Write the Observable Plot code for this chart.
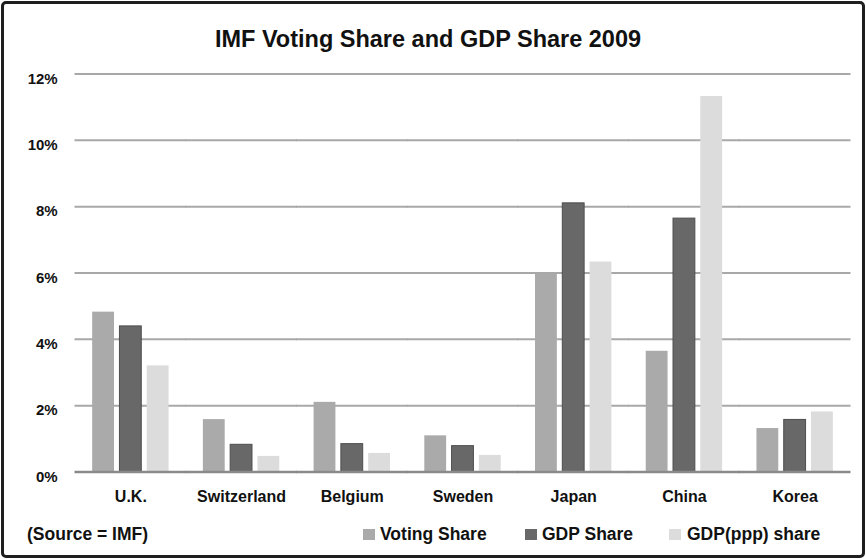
<!DOCTYPE html>
<html>
<head>
<meta charset="utf-8">
<script src="https://cdn.jsdelivr.net/npm/d3@7"></script>
<script src="https://cdn.jsdelivr.net/npm/@observablehq/plot@0.6"></script>
<style>
  html, body { margin: 0; padding: 0; background: #fff; }
  body { width: 866px; height: 559px; position: relative; overflow: hidden;
         font-family: "Liberation Sans", Arial, sans-serif; }
  #chart { position: absolute; left: 0; top: 0; }
  .frame { position: absolute; left: 1px; top: 1px; width: 864px; height: 557px;
           box-sizing: border-box; border: 3px solid #1e1e1e; border-radius: 5px; pointer-events: none; }
  .title { position: absolute; left: 0; width: 856px; top: 28.4px; text-align: center;
           font-size: 23.5px; line-height: 1; font-weight: bold; color: #111; }
  .leg { position: absolute; top: 525.5px; font-size: 17.5px; line-height: 1; font-weight: bold; color: #111; white-space: nowrap; }
  .sw { position: absolute; top: 529px; width: 12px; height: 11px; }
</style>
</head>
<body>
<div id="chart"></div>
<div class="title">IMF Voting Share and GDP Share 2009</div>
<div class="leg" style="left:27px">(Source = IMF)</div>
<div id="legend"></div>
<div class="frame"></div>
<script>
const countries = ["U.K.", "Switzerland", "Belgium", "Sweden", "Japan", "China", "Korea"];
const seriesNames = ["Voting Share", "GDP Share", "GDP(ppp) share"];
const votingShare = [4.82, 1.58, 2.10, 1.09, 5.98, 3.64, 1.31];
const gdpShare    = [4.39, 0.82, 0.84, 0.78, 8.10, 7.64, 1.57];
const pppShare    = [3.20, 0.47, 0.56, 0.50, 6.33, 11.32, 1.81];
const yTicks = [0, 2, 4, 6, 8, 10, 12];
const colors = ["#aaaaaa", "#686868", "#dcdcdc"];

const seriesValues = [votingShare, gdpShare, pppShare];
const data = countries.flatMap((c, i) =>
  seriesNames.map((s, j) => ({country: c, series: s, value: seriesValues[j][i]})));

const W = 866, H = 559, ML = 75, MR = 16;
const fxPadInner = 0.31;
// half the gap between facet groups, so grid lines join into one continuous line
const halfGap = (W - ML - MR) / countries.length * fxPadInner / 2;

const chart = Plot.plot({
  width: W,
  height: H,
  marginTop: 73.5,
  marginBottom: 87.5,
  marginLeft: ML,
  marginRight: MR,
  style: {background: "transparent", fontFamily: "'Liberation Sans', Arial, sans-serif", color: "#111"},
  fx: {domain: countries, paddingInner: fxPadInner, paddingOuter: fxPadInner / 2, round: false, label: null, axis: null},
  x: {domain: seriesNames, paddingInner: 0.2, paddingOuter: 0, round: false, axis: null},
  y: {domain: [0, 12], label: null, axis: null},
  color: {domain: seriesNames, range: colors},
  marks: [
    Plot.ruleY(yTicks.filter(d => d > 0), {stroke: "#a8a8a8", strokeWidth: 2, insetLeft: -halfGap - 0.5, insetRight: -halfGap - 0.5}),
    Plot.barY(data, {fx: "country", x: "series", y: "value", fill: "series"}),
    Plot.barY(data.filter(d => d.series === "GDP Share"),
      {fx: "country", x: "series", y: "value", fill: "none", stroke: "#4e4e4e", strokeWidth: 1}),
    Plot.ruleY([0], {stroke: "#8a8a8a", strokeWidth: 2.5, insetLeft: -halfGap - 0.5, insetRight: -halfGap - 0.5}),
    Plot.axisY({ticks: yTicks, tickFormat: d => d + "%", tickSize: 0, tickPadding: 35,
      fontSize: 15, fontWeight: "bold", dy: 5, label: null}),
    Plot.axisFx({anchor: "bottom", tickSize: 0, tickPadding: 19, fontSize: 16, fontWeight: "bold", label: null})
  ]
});
document.getElementById("chart").appendChild(chart);

const legendPos = [{sw: 363, tx: 380}, {sw: 525, tx: 542}, {sw: 669, tx: 687}];
const legend = document.getElementById("legend");
seriesNames.forEach((s, i) => {
  const sw = document.createElement("div");
  sw.className = "sw";
  sw.style.left = legendPos[i].sw + "px";
  sw.style.background = colors[i];
  legend.appendChild(sw);
  const t = document.createElement("div");
  t.className = "leg";
  t.style.left = legendPos[i].tx + "px";
  t.textContent = s;
  legend.appendChild(t);
});
</script>
</body>
</html>
